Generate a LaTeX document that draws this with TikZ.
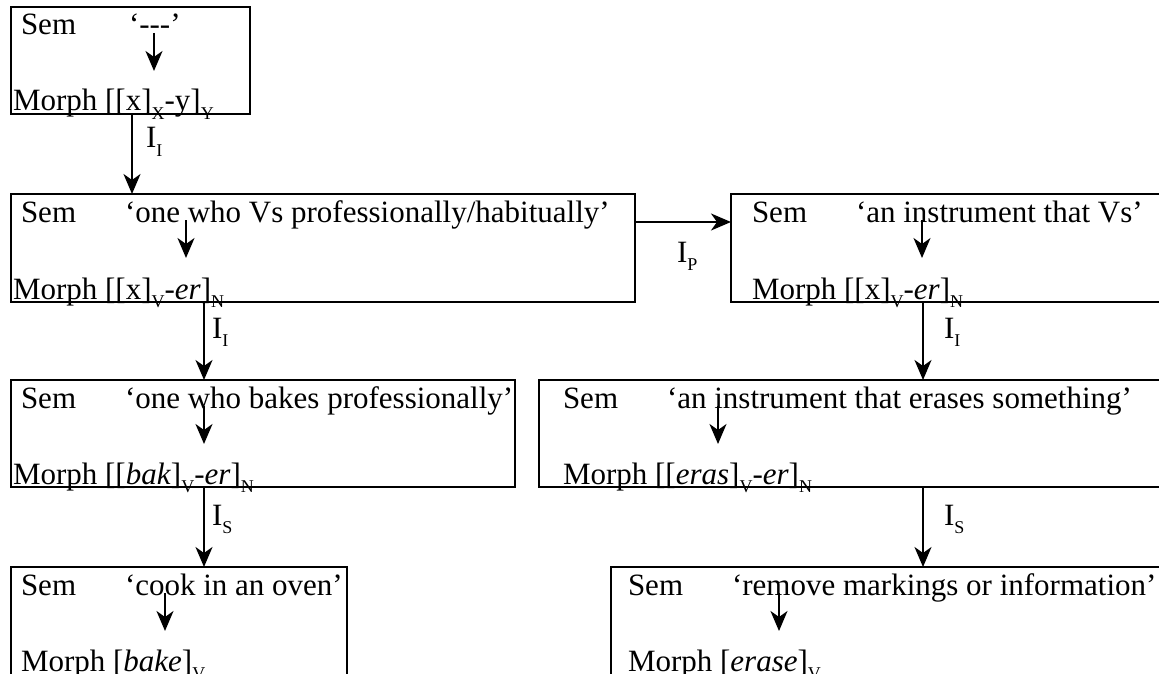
\documentclass[tikz,border=0pt]{standalone}
\usepackage{fontspec}
\setmainfont{Liberation Serif}
\usetikzlibrary{arrows.meta}
\newcommand\sbx[1]{\raisebox{-0.26em}{\fontsize{18}{18}\selectfont #1}}
\begin{document}
\begin{tikzpicture}[x=1pt,y=-1pt,
  box/.style={draw, line width=2.5pt, inner sep=0pt, outer sep=0pt, anchor=north west},
  txt/.style={inner sep=0pt, outer sep=0pt, anchor=base west, font=\fontsize{31}{36}\selectfont},
  arr/.style={line width=2pt, -{Stealth[length=20pt,width=17pt,inset=6pt]}}]
\useasboundingbox (0,0) rectangle (1159,674);
\clip (0,0) rectangle (1159,674);
% boxes
\node[box, minimum width=239pt, minimum height=107pt] (b1) at (11,7) {};
\node[box, minimum width=624pt, minimum height=108pt] (b2) at (11,194) {};
\node[box, minimum width=450pt, minimum height=108pt] (b3) at (731,194) {};
\node[box, minimum width=504pt, minimum height=107pt] (b4) at (11,380) {};
\node[box, minimum width=640pt, minimum height=107pt] (b5) at (539,380) {};
\node[box, minimum width=336pt, minimum height=130pt] (b6) at (11,567) {};
\node[box, minimum width=570pt, minimum height=130pt] (b7) at (611,567) {};
% box 1
\node[txt] (s1) at (21,35) {Sem};
\node[txt] (q1) at (129,35) {‘-{}-{}-’};
\node[txt] (m1) at (13,111) {Morph [[x]\sbx{X}-y]\sbx{Y}};
% box 2
\node[txt] (s2) at (21,222) {Sem};
\node[txt] (q2) at (125,222) {‘one who Vs professionally/habitually’};
\node[txt] (m2) at (13,299) {Morph [[x]\sbx{V}-\textit{er}]\sbx{N}};
% box 3
\node[txt] (s3) at (752,222) {Sem};
\node[txt] (q3) at (856,222) {‘an instrument that Vs’};
\node[txt] (m3) at (752,299) {Morph [[x]\sbx{V}-\textit{er}]\sbx{N}};
% box 4
\node[txt] (s4) at (21,408) {Sem};
\node[txt] (q4) at (125,408) {‘one who bakes professionally’};
\node[txt] (m4) at (13,484) {Morph [[\textit{bak}]\sbx{V}-\textit{er}]\sbx{N}};
% box 5
\node[txt] (s5) at (563,408) {Sem};
\node[txt] (q5) at (667,408) {‘an instrument that erases something’};
\node[txt] (m5) at (563,484) {Morph [[\textit{eras}]\sbx{V}-\textit{er}]\sbx{N}};
% box 6
\node[txt] (s6) at (21,595) {Sem};
\node[txt] (q6) at (125,595) {‘cook in an oven’};
\node[txt] (m6) at (21,671) {Morph [\textit{bake}]\sbx{V}};
% box 7
\node[txt] (s7) at (628,595) {Sem};
\node[txt] (q7) at (732,595) {‘remove markings or information’};
\node[txt] (m7) at (628,671) {Morph [\textit{erase}]\sbx{V}};
% inner arrows
\coordinate (a1t) at (154,33); \coordinate (a1b) at (154,71);
\coordinate (a2t) at (186,220); \coordinate (a2b) at (186,258);
\coordinate (a3t) at (922,220); \coordinate (a3b) at (922,258);
\coordinate (a4t) at (204,406); \coordinate (a4b) at (204,444);
\coordinate (a5t) at (718,406); \coordinate (a5b) at (718,444);
\coordinate (a6t) at (165,593); \coordinate (a6b) at (165,631);
\coordinate (a7t) at (779,593); \coordinate (a7b) at (779,631);
\foreach \i in {1,...,7} {\draw[arr] (a\i t) -- (a\i b);}
% connectors
\coordinate (c1) at (132,0);
\coordinate (c2) at (204,0);
\coordinate (c3) at (923,0);
\coordinate (cp) at (0,222);
\draw[arr] (b1.south -| c1) -- (b2.north -| c1);
\draw[arr] (b2.south -| c2) -- (b4.north -| c2);
\draw[arr] (b3.south -| c3) -- (b5.north -| c3);
\draw[arr] (b4.south -| c2) -- (b6.north -| c2);
\draw[arr] (b5.south -| c3) -- (b7.north -| c3);
\draw[arr] (b2.east |- cp) -- (b3.west |- cp);
% labels
\node[txt] (l1) at (146,148) {I\sbx{I}};
\node[txt] (l2) at (212,338) {I\sbx{I}};
\node[txt] (l3) at (944,338) {I\sbx{I}};
\node[txt] (l4) at (212,525) {I\sbx{S}};
\node[txt] (l5) at (944,525) {I\sbx{S}};
\node[txt] (lp) at (677,262) {I\sbx{P}};
\end{tikzpicture}
\end{document}
